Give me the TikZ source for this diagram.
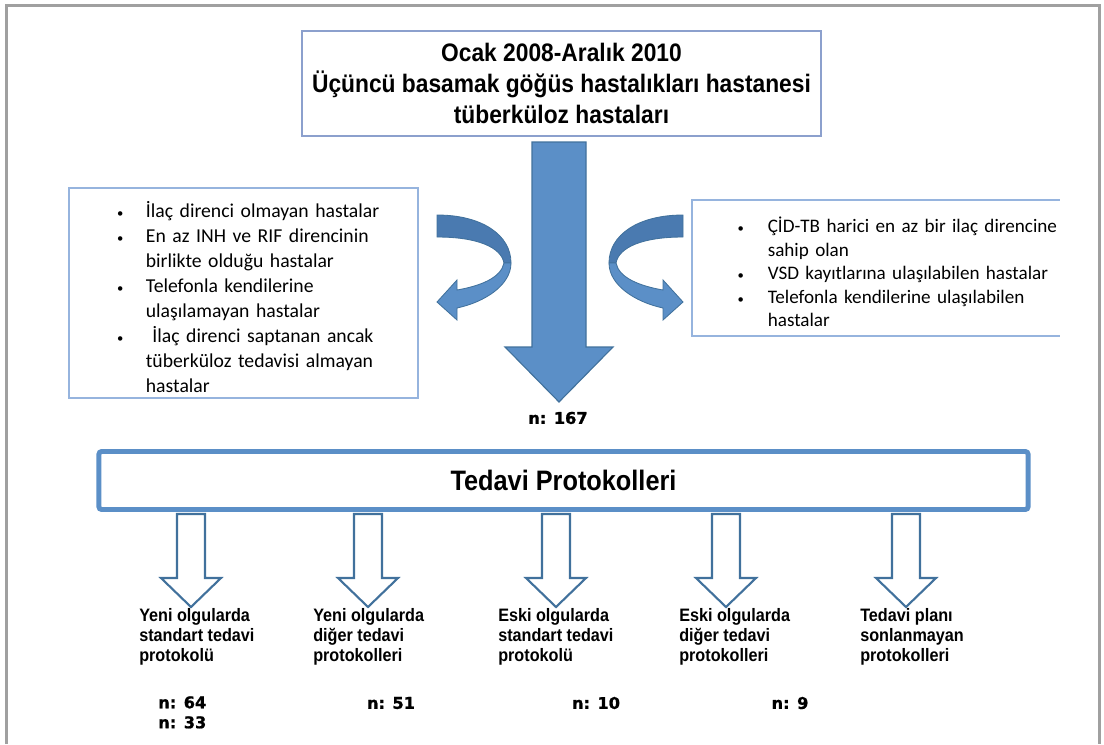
\documentclass[tikz,border=0pt]{standalone}
\usepackage{fontspec}
\setmainfont{Carlito}
\newfontfamily\headfont[FakeStretch=0.9]{Liberation Sans}
\newfontfamily\numfont[UprightFont={* Bold}, FakeBold=1.2]{DejaVu Sans}
\usetikzlibrary{positioning}

\definecolor{frameGray}{RGB}{160,160,160}
\definecolor{headBlue}{RGB}{140,160,205}
\definecolor{listBlue}{RGB}{150,180,222}
\definecolor{arrowFill}{RGB}{91,143,199}
\definecolor{arrowDark}{RGB}{74,122,176}
\definecolor{arrowEdge}{RGB}{65,113,156}
\definecolor{protoBlue}{RGB}{91,143,199}

% 项目符号列表: #1 左缩进, #2 符号与文字间距
\newenvironment{hastalist}[2]{%
  \begin{list}{\small\textbullet}{\setlength{\leftmargin}{#1}\setlength{\labelsep}{#2}%
    \setlength{\labelwidth}{12pt}\setlength{\itemsep}{0pt}\setlength{\parsep}{0pt}%
    \setlength{\topsep}{0pt}\setlength{\partopsep}{0pt}}}%
  {\end{list}}

\begin{document}
\begin{tikzpicture}
    [x=0.025cm, y=-0.025cm,
    headbox/.style={draw=headBlue, line width=1.5pt, minimum width=12.975cm, minimum height=2.625cm,
      align=center, font=\headfont\bfseries\fontsize{18}{22}\selectfont},
    listbox/.style={draw=listBlue, line width=1.2pt, inner xsep=0pt, inner ysep=2pt, align=left,
      font=\fontsize{14}{17.8}\selectfont},
    listline/.style={draw=listBlue, line width=1.2pt},
    protobox/.style={draw=protoBlue, line width=3.5pt, rounded corners=2pt, minimum width=23.225cm,
      minimum height=1.45cm, font=\headfont\bfseries\fontsize{20}{24}\selectfont},
    protolabel/.style={align=left, inner sep=0pt, font=\headfont\bfseries\fontsize{12.8}{14.2}\selectfont},
    count/.style={align=left, inner sep=0pt, font=\numfont\fontsize{11.5}{14.2}\selectfont},
    curl/.pic={
      \filldraw[fill=arrowDark, draw=arrowEdge, line width=0.6pt]
        (0,0) .. controls (45,0) and (74,20) .. (74,48) -- (67,48)
        .. controls (64,32) and (40,22) .. (0,22) -- cycle;
      \filldraw[fill=arrowFill, draw=arrowEdge, line width=0.6pt]
        (74,48) .. controls (74,70) and (48,87) .. (20,93) -- (20,105) -- (0,87) -- (20,65) -- (20,75)
        .. controls (43,71) and (64,63) .. (67,48) -- cycle;
    },
    outarrow/.pic={
      \filldraw[fill=white, draw=arrowEdge, line width=1.5pt]
        (-14,-93) -- (14,-93) -- (14,-29) -- (30,-29) -- (0,0) -- (-30,-29) -- (-14,-29) -- cycle;
    }]
    \useasboundingbox (0,0) rectangle (1104,744);
    % 外框 (下边没有线)
    \draw[frameGray, line width=2.1pt] (6.5,744) -- (6.5,5.5) -- (1099.5,5.5) -- (1099.5,744);
    % 顶部方框
    \node[headbox] (src) at (561.5,83.5) {Ocak 2008-Aralık 2010\\Üçüncü basamak göğüs hastalıkları hastanesi\\tüberküloz hastaları};
    % 中间大箭头
    \filldraw[fill=arrowFill, draw=arrowEdge, line width=0.8pt]
      (532,142) -- (586,142) -- (586,347) -- (613,347) -- (559,402) -- (505,347) -- (532,347) -- cycle;
    \node[count] (total) at (558,418) {n: 167};
    % 左右弯箭头
    \pic at (437,215) {curl};
    \pic[xscale=-1] at (683,215) {curl};
    % 左侧排除列表
    \node[listbox, anchor=north west, text width=8.725cm, minimum height=5.25cm] (excl) at (68,187) {%
      \begin{hastalist}{54.8pt}{16pt}
        \item İlaç direnci olmayan hastalar
        \item En az INH ve RIF direncinin\newline birlikte olduğu hastalar
        \item Telefonla kendilerine\newline ulaşılamayan hastalar
        \item \ İlaç direnci saptanan ancak\newline tüberküloz tedavisi almayan\newline hastalar
      \end{hastalist}};
    % 右侧列表 (右边没有线)
    \node[listbox, draw=none, anchor=north west, text width=9.15cm, minimum height=3.35cm,
      font=\fontsize{13.6}{16.7}\selectfont] (incl) at (692,200) {%
      \begin{hastalist}{53.3pt}{17pt}
        \item \makebox[0pt][l]{ÇİD-TB harici en az bir ilaç direncine}\newline sahip olan
        \item VSD kayıtlarına ulaşılabilen hastalar
        \item Telefonla kendilerine ulaşılabilen\newline hastalar
      \end{hastalist}};
    \draw[listline] (incl.north east) -- (incl.north west) -- (incl.south west) -- (incl.south east);
    % 治疗方案框
    \node[protobox] (proto) at (563.5,480.5) {Tedavi Protokolleri};
    % 五个空心箭头
    \pic at (191,607) {outarrow};
    \pic at (368,607) {outarrow};
    \pic at (556,607) {outarrow};
    \pic at (726,607) {outarrow};
    \pic at (906,607) {outarrow};
    % 标签
    \node[protolabel, anchor=north west] (yenistd) at (139,608) {Yeni olgularda\\standart tedavi\\protokolü};
    \node[protolabel, anchor=north west] (yenidgr) at (313,608) {Yeni olgularda\\diğer tedavi\\protokolleri};
    \node[protolabel, anchor=north west] (eskistd) at (498,608) {Eski olgularda\\standart tedavi\\protokolü};
    \node[protolabel, anchor=north west] (eskidgr) at (679,608) {Eski olgularda\\diğer tedavi\\protokolleri};
    \node[protolabel, anchor=north west] (sonlan) at (860,608) {Tedavi planı\\sonlanmayan\\protokolleri};
    % 人数
    \node[count, anchor=north west] (nyenistd) at (158,696) {n: 64\\n: 33};
    \node[count] (nyenidgr) at (391,703) {n: 51};
    \node[count] (neskistd) at (596,703) {n: 10};
    \node[count] (neskidgr) at (790,703) {n: 9};
\end{tikzpicture}
\end{document}
